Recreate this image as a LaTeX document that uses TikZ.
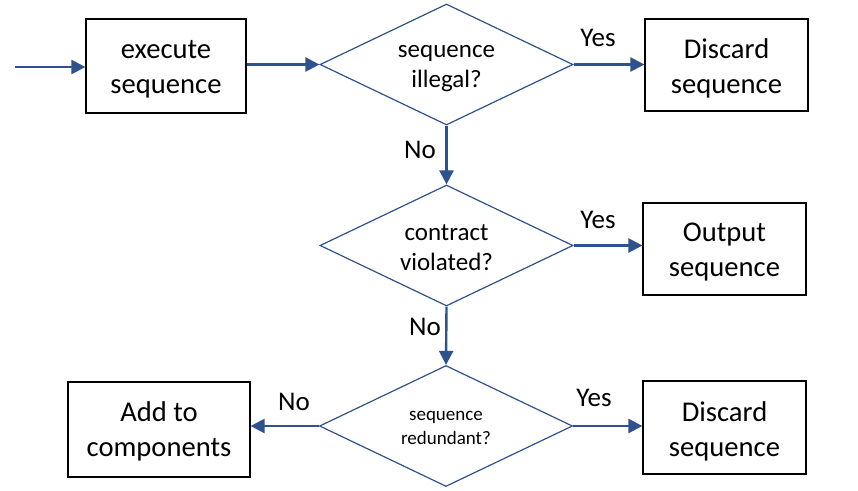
\documentclass[tikz,border=0pt]{standalone}
\usepackage{fontspec}
\setmainfont{Carlito}
\usetikzlibrary{shapes.geometric,arrows.meta,calc}
\definecolor{flowblue}{RGB}{47,82,143}
\begin{document}
\begin{tikzpicture}[x=1pt,y=-1pt,
  procbox/.style={draw=black,line width=1.2pt,inner sep=0pt},
  boxtext/.style={align=center,inner sep=0pt,font=\fontsize{28.6}{35}\selectfont},
  decision/.style={diamond,draw=flowblue,line width=1.2pt,inner sep=0pt,
    shape aspect=2.08,minimum width=253pt,minimum height=121pt},
  dtext/.style={align=center,inner sep=0pt,font=\fontsize{25}{30}\selectfont},
  dsmall/.style={align=center,inner sep=0pt,font=\fontsize{19}{24}\selectfont},
  flow/.style={draw=flowblue,line width=2.4pt,-{Triangle[length=14pt,width=14pt]}},
  lbl/.style={font=\fontsize{27}{32}\selectfont,inner sep=0pt}]
\useasboundingbox (0,0) rectangle (858,490);
\coordinate (start) at (15,67);
\node[procbox,minimum width=160pt,minimum height=94pt,
  label={[boxtext,yshift=-3.5pt]center:execute\\sequence}] (exec) at (166,66) {};
\node[decision,label={[dtext,yshift=-4pt]center:sequence\\illegal?}] (d1) at (446.5,64.5) {};
\node[procbox,minimum width=163pt,minimum height=92pt,
  label={[boxtext,yshift=-3pt]center:Discard\\sequence}] (disc1) at (726.5,65) {};
\node[decision,label={[dtext,yshift=-2pt]center:contract\\violated?}] (d2) at (446.5,245.5) {};
\node[procbox,minimum width=163pt,minimum height=92pt,
  label={[boxtext,yshift=-3.5pt]center:Output\\sequence}] (out) at (724.5,249) {};
\node[decision,label={[dsmall,yshift=-1.5pt]center:sequence\\redundant?}] (d3) at (446,426) {};
\node[procbox,minimum width=182pt,minimum height=95pt,
  label={[boxtext,yshift=-2pt]center:Add to\\components}] (add) at (159,429.5) {};
\node[procbox,minimum width=163pt,minimum height=93pt,
  label={[boxtext,yshift=-3.5pt]center:Discard\\sequence}] (disc2) at (724.5,427.5) {};

\draw[flow] (start) -- (start -| exec.west);
\draw[flow] (exec.east |- d1.west) -- (d1.west);
\draw[flow] (d1.east) -- (d1.east -| disc1.west);
\draw[flow] (d1.south) -- (d2.north);
\draw[flow] (d2.east) -- (d2.east -| out.west);
\draw[flow] (d2.south) -- (d3.north);
\draw[flow] (d3.west) -- (d3.west -| add.east);
\draw[flow] (d3.east) -- (d3.east -| disc2.west);

\node[lbl] (y1) at (598,38) {Yes};
\node[lbl] (n1) at (420,150) {No};
\node[lbl] (y2) at (598,220) {Yes};
\node[lbl] (n2) at (425,327) {No};
\node[lbl] (n3) at (294,402) {No};
\node[lbl] (y3) at (594,398) {Yes};
\end{tikzpicture}
\end{document}
